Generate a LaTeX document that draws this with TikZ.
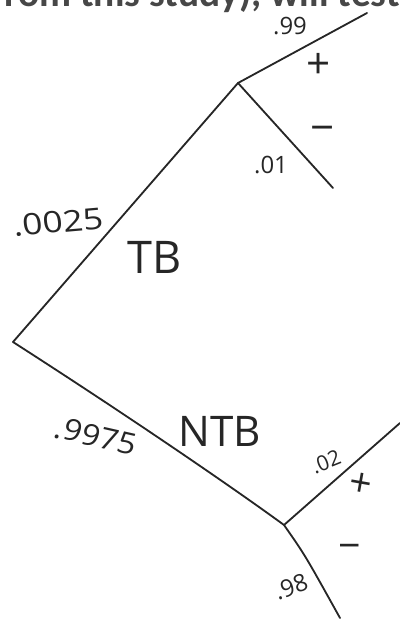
\documentclass[tikz,border=0pt]{standalone}
\usepackage{fontspec}
\setmainfont{Open Sans}
\newfontfamily\hdrfont{Carlito}
\begin{document}
\begin{tikzpicture}[x=0.025cm,y=-0.025cm,
  branch/.style={line width=1.3pt,line cap=round,line join=round,black!85},
  lbl/.style={inner sep=0pt,black!85},
  hdr/.style={inner sep=0pt,anchor=base west,text=black!72,font=\hdrfont\bfseries\fontsize{28}{28}\selectfont}]
\useasboundingbox (0,0) rectangle (400,620);
\clip (0,0) rectangle (400,620);
\node[hdr] (header) at (-8,6) {from this study), will test};
% junctions and ends
\coordinate (root) at (13,342);
\coordinate (tb) at (238,83);
\coordinate (tbpos) at (367,13);
\coordinate (tbneg) at (333,188);
\coordinate (ntb) at (284,525);
\coordinate (ntbpos) at (400,423);
\coordinate (ntbneg) at (340,618);
% branches
\draw[branch] (root) -- (tb);
\draw[branch] (tb) -- (tbpos);
\draw[branch] (tb) -- (tbneg);
\draw[branch] (root) .. controls (150,430) and (250,500) .. (ntb);
\draw[branch] (ntb) -- (ntbpos);
\draw[branch] (ntb) .. controls (305,555) .. (ntbneg);
% labels
\node[lbl,font=\fontsize{17}{17}\selectfont] (p99) at (290,26) {.99};
\node[lbl,font=\fontsize{30}{30}\selectfont] (tbplus) at (319,66) {+};
\node[lbl,font=\fontsize{30}{30}\selectfont] (tbminus) at (323,134) {−};
\node[lbl,font=\fontsize{17}{17}\selectfont] (p01) at (271,165) {.01};
\node[lbl,font=\fontsize{21}{21}\selectfont,xscale=1.2,rotate=6] (p0025) at (58,222) {.0025};
\node[lbl,font=\fontsize{32}{32}\selectfont] (tblab) at (155,257) {TB};
\node[lbl,font=\fontsize{21}{21}\selectfont,xscale=1.1,rotate=-14] (p9975) at (96,436) {.9975};
\node[lbl,font=\fontsize{30}{30}\selectfont] (ntblab) at (220,431) {NTB};
\node[lbl,font=\fontsize{15}{15}\selectfont,rotate=22] (p02) at (326,462) {.02};
\node[lbl,font=\fontsize{28}{28}\selectfont,rotate=-10] (ntbplus) at (361,485) {+};
\node[lbl,font=\fontsize{28}{28}\selectfont] (ntbminus) at (350,552) {−};
\node[lbl,font=\fontsize{17}{17}\selectfont,rotate=20] (p98) at (291,587) {.98};
\end{tikzpicture}
\end{document}
